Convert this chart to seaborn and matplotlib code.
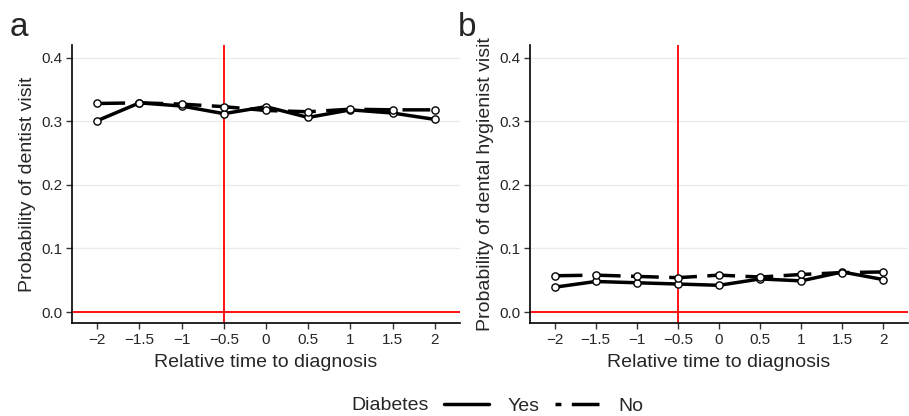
import numpy as np
import pandas as pd
import matplotlib.pyplot as plt
import seaborn as sns
from matplotlib.lines import Line2D
from matplotlib.ticker import FuncFormatter

# data
time = [-2, -1.5, -1, -0.5, 0, 0.5, 1, 1.5, 2]
dentist_yes = [0.301, 0.329, 0.324, 0.312, 0.323, 0.306, 0.318, 0.313, 0.303]
dentist_no = [0.328, 0.329, 0.327, 0.323, 0.317, 0.315, 0.319, 0.318, 0.318]
hyg_yes = [0.039, 0.048, 0.046, 0.044, 0.042, 0.052, 0.049, 0.063, 0.051]
hyg_no = [0.057, 0.058, 0.056, 0.054, 0.058, 0.055, 0.059, 0.062, 0.063]

df_a = pd.DataFrame({"time": time * 2, "prob": dentist_yes + dentist_no,
                     "Diabetes": ["Yes"] * 9 + ["No"] * 9})
df_b = pd.DataFrame({"time": time * 2, "prob": hyg_yes + hyg_no,
                     "Diabetes": ["Yes"] * 9 + ["No"] * 9})

sns.set_style("white")
plt.rcParams['font.family'] = ['Liberation Sans', 'DejaVu Sans']

fig = plt.figure(figsize=(9.09, 4.16), dpi=100)
ax1 = fig.add_axes([72/909, 93/416, 388/909, 278/416])
ax2 = fig.add_axes([530/909, 93/416, 378/909, 278/416])

dash = (8, 3)
lw = 2.5
for ax, d, ylab, letter, lx in [(ax1, df_a, "Probability of dentist visit", "a", 10),
                                (ax2, df_b, "Probability of dental hygienist visit", "b", 458)]:
    ax.axvline(-0.5, color="red", lw=1.3, zorder=1)
    ax.axhline(0, color="red", lw=1.3, zorder=1)
    sns.lineplot(data=d, x="time", y="prob", style="Diabetes",
                 style_order=["Yes", "No"], dashes={"Yes": "", "No": dash},
                 color="black", lw=lw, marker="o", markersize=5.2,
                 markerfacecolor="white", markeredgecolor="black",
                 markeredgewidth=1.0, legend=False, ax=ax, zorder=3)
    ax.set_xlim(-2.3, 2.3)
    ax.set_ylim(-0.0173, 0.42)
    ax.set_xticks(time)
    ax.set_yticks([0, 0.1, 0.2, 0.3, 0.4])
    ax.xaxis.set_major_formatter(FuncFormatter(lambda v, p: f"{v:g}".replace("-", "\u2212")))
    ax.yaxis.set_major_formatter(FuncFormatter(lambda v, p: f"{v:.1f}"))
    ax.grid(axis="y", color="#ebebeb", lw=1.0, zorder=0)
    ax.set_axisbelow(True)
    for s in ["top", "right"]:
        ax.spines[s].set_visible(False)
    for s in ["left", "bottom"]:
        ax.spines[s].set_color("black")
        ax.spines[s].set_linewidth(1.2)
    ax.tick_params(axis="both", direction="out", length=4, width=1.0, pad=3,
                   color="#333333", labelsize=11, labelcolor="#262626",
                   bottom=True, left=True)
    ax.set_xlabel("Relative time to diagnosis", fontsize=14, labelpad=5)
    ax.set_ylabel(ylab, fontsize=14, labelpad=4)
    fig.text(lx/909, (416-36)/416, letter, fontsize=24, va="baseline", ha="left")

fig.text(429/909, 10/416, "Diabetes", fontsize=14, ha="right", va="center")
handles = [Line2D([], [], color="black", lw=lw),
           Line2D([], [], color="black", lw=lw, ls=(6.3, dash))]
fig.legend(handles, ["Yes", "No"], ncol=2, frameon=False, fontsize=14,
           handlelength=2.3, columnspacing=0.8, handletextpad=0.95,
           loc="center left", bbox_to_anchor=(444/909, 10/416),
           borderaxespad=0, borderpad=0)

fig.savefig("out.png", dpi=100)
